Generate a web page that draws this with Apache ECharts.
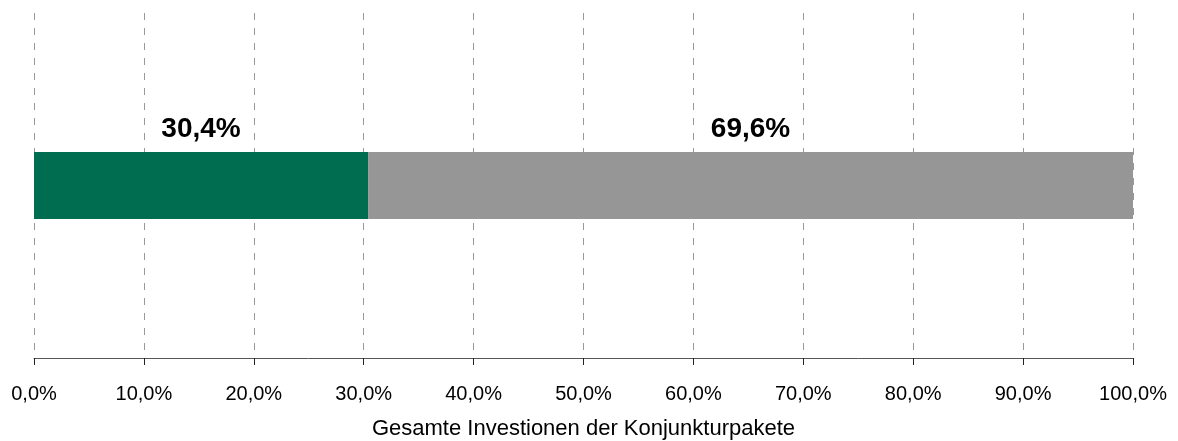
<!DOCTYPE html>
<html>
<head>
<meta charset="utf-8">
<script src="https://cdn.jsdelivr.net/npm/echarts@6/dist/echarts.min.js"></script>
<style>
  html, body { margin: 0; padding: 0; background: #fff; }
  #chart { width: 1178px; height: 441px; }
</style>
</head>
<body>
<div id="chart"></div>
<script>
const categories = ['Gesamt']
const shareGreen = [30.4]
const shareGray = [69.6]
const xTicks = [0, 10, 20, 30, 40, 50, 60, 70, 80, 90, 100]

const fmt = v => v.toFixed(1).replace('.', ',') + '%'

const chart = echarts.init(document.getElementById('chart'))

// Beschriftung über den Balkensegmenten
const barLabel = {
  show: true,
  position: 'top',
  distance: 9,
  fontFamily: 'Liberation Sans, Arial, sans-serif',
  fontSize: 28,
  fontWeight: 'bold',
  color: '#000',
  formatter: p => fmt(p.value)
}

chart.setOption({
  animation: false,
  grid: { left: 34, right: 45, top: 13, bottom: 83, outerBoundsMode: 'none' },
  xAxis: {
    type: 'value',
    min: xTicks[0],
    max: xTicks[xTicks.length - 1],
    interval: 10,
    name: 'Gesamte Investionen der Konjunkturpakete',
    nameLocation: 'middle',
    nameGap: 60,
    nameTextStyle: { fontFamily: 'Liberation Sans, Arial, sans-serif', fontSize: 22, color: '#000' },
    axisLine: { show: true, lineStyle: { color: '#555', width: 1 } },
    axisTick: { show: true, length: 7, lineStyle: { color: '#222' } },
    axisLabel: {
      margin: 26,
      fontFamily: 'Liberation Sans, Arial, sans-serif',
      fontSize: 20,
      color: '#000',
      formatter: v => fmt(v)
    },
    splitLine: { show: true, lineStyle: { color: '#999', type: [7, 8], width: 1 } }
  },
  yAxis: {
    type: 'category',
    data: categories,
    axisLine: { show: false },
    axisTick: { show: false },
    axisLabel: { show: false }
  },
  series: [
    {
      type: 'bar',
      stack: 'total',
      data: shareGreen,
      barWidth: 67,
      itemStyle: { color: '#006D50' },
      label: barLabel
    },
    {
      type: 'bar',
      stack: 'total',
      data: shareGray,
      barWidth: 67,
      itemStyle: { color: '#969696' },
      label: barLabel
    }
  ]
})
</script>
</body>
</html>
